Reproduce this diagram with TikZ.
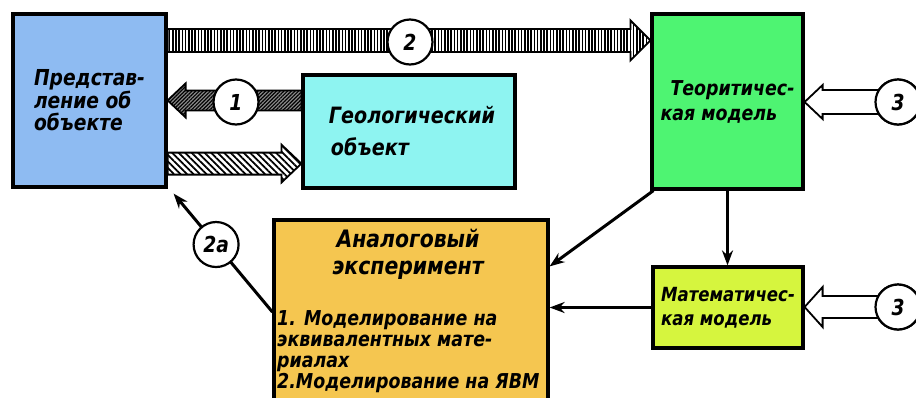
\documentclass[tikz,border=0pt]{standalone}
\usepackage{fontspec}
\setmainfont{DejaVu Sans}[FakeStretch=0.85]
\usetikzlibrary{calc,patterns.meta,arrows.meta}
\definecolor{cblue}{HTML}{8EBBF2}
\definecolor{ccyan}{HTML}{8EF4F1}
\definecolor{cgreen}{HTML}{4EF472}
\definecolor{corange}{HTML}{F5C650}
\definecolor{cyell}{HTML}{D6F53E}
\newcommand\blockarrow[6]{%
  \path[#1] let \p1=(#2), \p2=(#3), \n1={ifthenelse(\x2>\x1,1,-1)}, \n2={\x2-(\n1)*(#6)} in
  (\x1,\y1+#4) -- (\n2,\y1+#4) -- (\n2,\y1+#5) -- (\x2,\y1) -- (\n2,\y1-#5) -- (\n2,\y1-#4) -- (\x1,\y1-#4) -- cycle;}
\begin{document}
\begin{tikzpicture}[x=1pt,y=-1pt,
  box/.style={draw=black, line width=3.2pt, inner sep=0pt},
  txt/.style 2 args={font=\bfseries\itshape\fontsize{#1}{#2}\selectfont},
  circ/.style={circle, draw=black, line width=2.2pt, fill=white, minimum size=45pt, inner sep=0pt, font=\bfseries\itshape\fontsize{22}{22}\selectfont},
  conn/.style={draw=black, line width=3pt, -{Stealth[length=15pt,width=11pt]}},
  barrow/.style={draw=black, line width=1.8pt, line join=miter}
]
\useasboundingbox (0,0) rectangle (916,397);
% boxes
\node[box, fill=cblue, minimum width=153pt, minimum height=173pt, align=left,
      txt={22}{22.5}] (pred) at (89.5,100.5)
      {Представ-\\ление об\\объекте};
\node[box, fill=ccyan, minimum width=212pt, minimum height=113pt, align=left,
      txt={22.5}{32}] (geo) at (409,131.5)
      {\hspace*{6pt}Геологический\\\hspace*{8pt}объект};
\node[box, fill=cgreen, minimum width=151pt, minimum height=175pt, align=left,
      txt={20.5}{25}] (teor) at (727.5,101.5)
      {\hspace*{10pt}Теоритичес-\\кая модель};
\node[box, fill=cyell, minimum width=150pt, minimum height=81pt, align=left,
      txt={19.5}{24}] (mat) at (728,307.5)
      {Математичес-\\кая модель};
\node[box, fill=corange, minimum width=274pt, minimum height=184pt] (anal) at (411,312) {};
\node[txt={24}{27}, align=center] (analt) at (408,254)
      {Аналоговый\\эксперимент};
\node[txt={20.5}{21}, align=left, anchor=north west, inner sep=0pt] (anall) at (277,310)
      {1. Моделирование на\\эквивалентных мате-\\риалах\\2.Моделирование на ЯВМ};
% block arrow coordinates
\coordinate (a2t) at ($(pred.north east)+(0,28)$);
\coordinate (a2h) at (a2t -| teor.west);
\coordinate (a1t) at ($(geo.north west)+(0,27)$);
\coordinate (a1h) at (a1t -| pred.east);
\coordinate (a0h) at ($(geo.south west)+(0,-26)$);
\coordinate (a0t) at (a0h -| pred.east);
\node[circ] (c3a) at (898,102) {3};
\node[circ] (c3b) at (898,307) {3};
% block arrows
\blockarrow{barrow, preaction={fill=white}, pattern={Lines[angle=90,distance=3.2pt,line width=1.5pt]}}{a2t}{a2h}{11.5pt}{20pt}{20pt}
\blockarrow{barrow, preaction={fill=black!45}, pattern={Lines[angle=45,distance=2.6pt,line width=1.2pt]}}{a1t}{a1h}{10pt}{17pt}{18pt}
\blockarrow{barrow, preaction={fill=white}, pattern={Lines[angle=-45,distance=4.6pt,line width=1.8pt]}}{a0t}{a0h}{11pt}{19pt}{20pt}
\blockarrow{barrow, fill=white}{c3a.center}{teor.east}{12pt}{17pt}{18pt}
\blockarrow{barrow, fill=white}{c3b.center}{mat.east}{11pt}{20pt}{18pt}
% circles on arrows
\node[circ] (c2) at (410,42) {2};
\node[circ] (c1) at (236,102) {1};
\node[circ] at (c3a) {3};
\node[circ] at (c3b) {3};
% connectors
\draw[conn] (teor.south) -- (teor.south |- mat.north);
\draw[conn] ($(teor.south west)+(3,0)$) -- ($(anal.north east)+(0,48)$);
\draw[conn] (mat.west) -- (mat.west -| anal.east);
\draw[conn] (anal.west) -- node[circ, pos=0.57] (c2a) {2a} ($(pred.south east)+(6,5)$);
\end{tikzpicture}
\end{document}
